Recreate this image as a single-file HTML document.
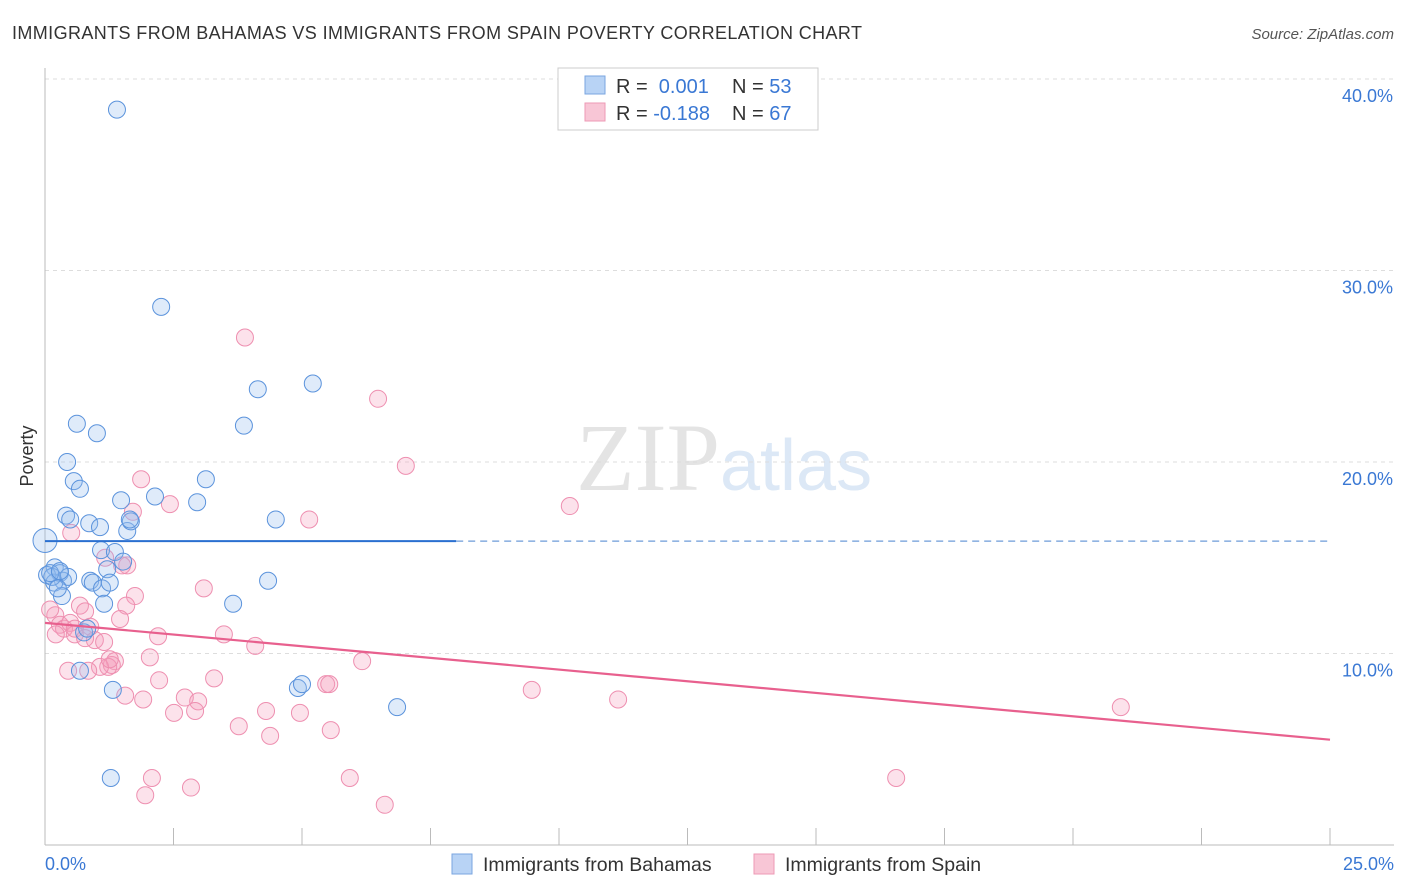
<!DOCTYPE html>
<html><head><meta charset="utf-8"><style>
body{margin:0;background:#fff;font-family:"Liberation Sans",sans-serif}
svg{display:block}
</style></head><body>
<svg width="1406" height="892" id="chart">
<text x="12" y="39" font-size="18" fill="#333" textLength="850" lengthAdjust="spacing">IMMIGRANTS FROM BAHAMAS VS IMMIGRANTS FROM SPAIN POVERTY CORRELATION CHART</text>
<text x="1394" y="39" font-size="15" fill="#555" font-style="italic" text-anchor="end">Source: ZipAtlas.com</text>
<text x="720" y="490" font-size="96" fill="#e4e4e4" font-family="Liberation Serif,serif" text-anchor="end">ZIP</text>
<text x="720" y="490" font-size="72" fill="#dce8f6">atlas</text>
<text x="33" y="456" font-size="18" fill="#333" transform="rotate(-90 33 456)" text-anchor="middle">Poverty</text>
<g id="grid"></g><g id="pts"></g><g id="lines"></g>
<rect x="558" y="68" width="260" height="62" fill="#fff" stroke="#ccc"/>
<rect x="585" y="76" width="20" height="18" fill="#b8d3f5" stroke="#7aa6e0"/>
<rect x="585" y="103" width="20" height="18" fill="#f8c6d6" stroke="#ee9ab5"/>
<text x="616" y="93" font-size="20" fill="#333">R = <tspan fill="#3a78d4">&#160;0.001</tspan><tspan x="732">N = </tspan><tspan fill="#3a78d4">53</tspan></text>
<text x="616" y="120" font-size="20" fill="#333">R = <tspan fill="#3a78d4">-0.188</tspan><tspan x="732">N = </tspan><tspan fill="#3a78d4">67</tspan></text>
<rect x="452" y="854" width="20" height="20" fill="#b8d3f5" stroke="#7aa6e0"/>
<text x="483" y="871" font-size="19.5" fill="#333">Immigrants from Bahamas</text>
<rect x="754" y="854" width="20" height="20" fill="#f8c6d6" stroke="#ee9ab5"/>
<text x="785" y="871" font-size="19.5" fill="#333">Immigrants from Spain</text>
</svg>
<script>
const yTicks=[10,20,30,40];
const yTickLabels=["10.0%","20.0%","30.0%","40.0%"];
const xTickLabels=["0.0%","25.0%"];
const bahamasX=[1.4,2.26,0.62,1.01,4.14,5.21,3.87,0.43,3.13,0.56,0.68,1.48,2.14,2.96,0.41,0.49,0.86,1.07,1.6,4.49,1.67,1.09,1.36,1.52,1.21,0.19,0.29,0.35,0.04,0.18,0.45,0.88,0.93,1.11,0.33,1.15,3.66,4.34,0.76,0.82,0.68,1.32,4.92,5.0,6.85,1.28,0.0,0.14,0.25,0.1,0.29,1.26,1.65];
const bahamasY=[38.4,28.1,22.0,21.5,23.8,24.1,21.9,20.0,19.1,19.0,18.6,18.0,18.2,17.9,17.2,17.0,16.8,16.6,16.4,17.0,16.9,15.4,15.3,14.8,14.4,14.5,14.2,13.8,14.1,13.7,14.0,13.8,13.7,13.4,13.0,12.6,12.6,13.8,11.1,11.3,9.1,8.1,8.2,8.4,7.2,3.5,15.9,14.0,13.4,14.2,14.3,13.7,17.0];
const spainX=[3.89,6.48,7.02,10.21,1.87,2.43,1.71,5.14,0.51,1.17,1.6,3.09,1.75,0.68,1.58,0.78,1.46,0.2,0.29,0.37,0.49,0.58,0.88,0.97,2.2,3.48,4.09,2.04,1.36,1.3,1.23,1.07,0.45,6.17,0.84,2.22,3.29,2.72,2.98,1.56,1.91,2.51,2.92,4.3,4.96,3.77,4.38,5.56,9.47,11.15,20.93,2.08,2.84,1.95,5.93,6.61,16.56,5.47,5.53,0.58,0.1,0.21,1.15,0.78,1.26,1.5];
const spainY=[26.5,23.3,19.8,17.7,19.1,17.8,17.4,17.0,16.3,15.0,14.6,13.4,13.0,12.5,12.5,12.2,11.8,12.0,11.5,11.3,11.6,11.0,11.4,10.7,10.9,11.0,10.4,9.8,9.6,9.4,9.3,9.3,9.1,9.6,9.1,8.6,8.7,7.7,7.5,7.8,7.6,6.9,7.0,7.0,6.9,6.2,5.7,6.0,8.1,7.6,7.2,3.5,3.0,2.6,3.5,2.1,3.5,8.4,8.4,11.3,12.3,11.0,10.6,10.8,9.7,14.6];
const bahamasTrend=[15.87,15.87];
const spainTrend=[11.6,5.5];
const NS="http://www.w3.org/2000/svg";
const X=v=>45+v*51.4, Y=v=>845-v*19.15;
function mk(tag,attrs,parent){const e=document.createElementNS(NS,tag);for(const k in attrs)e.setAttribute(k,attrs[k]);document.getElementById(parent).appendChild(e);return e;}
yTicks.forEach((t,i)=>{
  let l=mk('line',{x1:45,x2:1394,y1:Y(t),y2:Y(t),stroke:'#ddd','stroke-dasharray':'4,4'},'grid');
  
  
  let tx=mk('text',{x:1393,y:Y(t)+23,'font-size':18,fill:'#3a78d4','text-anchor':'end'},'grid');
  tx.textContent=yTickLabels[i];
  
  
});
let ax=mk('line',{x1:45,x2:45,y1:68,y2:845,stroke:'#bbb'},'grid');


let bx=mk('line',{x1:45,x2:1394,y1:845,y2:845,stroke:'#bbb'},'grid');


for(let i=0;i<=10;i++){let t=mk('line',{x1:X(i*2.5),x2:X(i*2.5),y1:828,y2:845,stroke:'#bbb'},'grid');

}
[[0,'start'],[25,'end']].forEach((d,i)=>{let t=mk('text',{x:i?1394:45,y:870,'font-size':18,fill:'#3a78d4','text-anchor':d[1]},'grid');t.textContent=xTickLabels[i];

});
spainX.forEach((x,i)=>{let c=mk('circle',{cx:X(x),cy:Y(spainY[i]),r:8.5,fill:'rgba(244,160,188,0.3)',stroke:'#ee8fb0','stroke-width':1},'pts');

});
bahamasX.forEach((x,i)=>{let c=mk('circle',{cx:X(x),cy:Y(bahamasY[i]),r:i==46?12:8.5,fill:'rgba(150,190,240,0.3)',stroke:'#5b93dc','stroke-width':1},'pts');

});
let b1=mk('line',{x1:X(0),x2:X(8),y1:Y(bahamasTrend[0]),y2:Y(bahamasTrend[0]+(bahamasTrend[1]-bahamasTrend[0])*8/25),stroke:'#2a6fd0','stroke-width':2},'lines');


let b2=mk('line',{x1:X(8),x2:X(25),y1:Y(bahamasTrend[0]+(bahamasTrend[1]-bahamasTrend[0])*8/25),y2:Y(bahamasTrend[1]),stroke:'#6d9bd8','stroke-width':1.3,'stroke-dasharray':'7,5'},'lines');


let p=mk('line',{x1:X(0),x2:X(25),y1:Y(spainTrend[0]),y2:Y(spainTrend[1]),stroke:'#e8608e','stroke-width':2.2},'lines');


</script>
</body></html>
